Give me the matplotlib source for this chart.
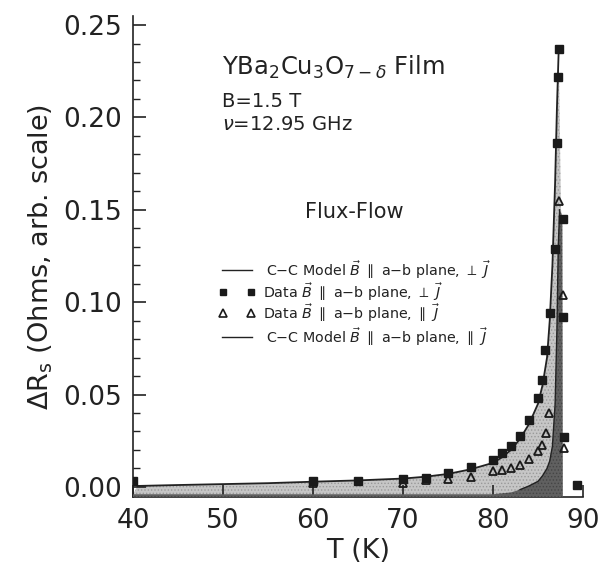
import numpy as np
import matplotlib
matplotlib.use("Agg")
import matplotlib.pyplot as plt
from matplotlib.ticker import MultipleLocator

plt.rcParams['font.family'] = ['DejaVu Sans']
plt.rcParams['mathtext.fontset'] = 'dejavusans'
plt.rcParams['hatch.linewidth'] = 0.6

# C-C model, B || a-b plane, perpendicular J (light fill)
T_perp_model = [40.0, 40.5, 45, 50, 55, 60, 65, 70, 72.5, 75, 77.5, 80, 81, 82, 83, 84,
                85, 85.5, 86.0, 86.3, 86.6, 86.9, 87.1, 87.3, 87.55, 87.7, 87.75]
R_perp_model = [-0.004, 0.0005, 0.001, 0.0015, 0.002, 0.0028, 0.0035, 0.0045, 0.0055, 0.007,
                0.0095, 0.013, 0.016, 0.020, 0.026, 0.034, 0.045, 0.055, 0.070, 0.090,
                0.120, 0.165, 0.205, 0.237, 0.150, 0.145, -0.01]

# C-C model, B || a-b plane, parallel J (dark fill)
T_par_model = [40.0, 80, 82, 83, 84, 85, 85.5, 86.0, 86.3, 86.6, 86.9, 87.1, 87.25,
               87.4, 87.6, 87.7, 87.75]
R_par_model = [-0.004, -0.004, -0.003, -0.0015, 0.0005, 0.003, 0.006, 0.010, 0.014, 0.022,
               0.045, 0.085, 0.130, 0.150, 0.148, 0.145, -0.01]

# data, B || a-b plane, perpendicular J
T_perp = [40.0, 60, 65, 70, 72.5, 75, 77.5, 80, 81, 82, 83, 84, 85, 85.4, 85.8, 86.3,
          86.9, 87.15, 87.25, 87.3, 87.75, 87.8, 87.9, 89.3]
R_perp = [0.003, 0.003, 0.003, 0.004, 0.005, 0.0073, 0.011, 0.0144, 0.0185, 0.022, 0.0275,
          0.036, 0.048, 0.058, 0.074, 0.094, 0.129, 0.186, 0.222, 0.237, 0.145, 0.092,
          0.027, 0.001]

# data, B || a-b plane, parallel J
T_par = [60.0, 70, 72.5, 75, 77.5, 80, 81, 82, 83, 84, 85, 85.4, 85.9, 86.2, 87.3, 87.8, 87.9]
R_par = [0.002, 0.002, 0.0036, 0.004, 0.0054, 0.0088, 0.0093, 0.0103, 0.0116, 0.0153,
         0.0194, 0.0228, 0.029, 0.040, 0.155, 0.104, 0.021]

fig = plt.figure(figsize=(6.0, 5.77), dpi=100)
ax = fig.add_axes([0.2217, 0.1386, 0.75, 0.834])

ax.fill_between(T_perp_model, R_perp_model, -0.01, facecolor='#c6c6c6', edgecolor='#999999',
                hatch='.....', lw=0, zorder=1)
ax.plot(T_perp_model[1:24], R_perp_model[1:24], color='#222222', lw=1.3, zorder=2)
ax.fill_between(T_par_model, R_par_model, -0.01, facecolor='#606060', edgecolor='#454545',
                hatch='.....', lw=0, zorder=3)
ax.plot(T_par_model[3:14], R_par_model[3:14], color='#222222', lw=1.0, zorder=4)

ax.plot(T_perp, R_perp, 's', color='#1a1a1a', ms=5.5, zorder=5)
ax.plot(T_par, R_par, '^', mfc='none', mec='#1a1a1a', mew=1.3, ms=6, zorder=5)

ax.set_xlim(40, 90)
ax.set_ylim(-0.0055, 0.255)
ax.xaxis.set_major_locator(MultipleLocator(10))
ax.yaxis.set_major_locator(MultipleLocator(0.05))
ax.yaxis.set_minor_locator(MultipleLocator(0.01))
ax.yaxis.set_major_formatter(plt.FormatStrFormatter('%.2f'))
ax.tick_params(which='both', direction='in', labelsize=19, colors='#222222', pad=8)
ax.tick_params(which='major', length=9, width=1.2)
ax.tick_params(which='minor', length=5, width=1.0)
ax.tick_params(axis='x', which='both', top=False)
ax.tick_params(axis='y', which='both', right=False)
ax.spines['top'].set_visible(False)
ax.spines['right'].set_visible(False)
for s in ['left', 'bottom']:
    ax.spines[s].set_linewidth(1.2)
    ax.spines[s].set_color('#222222')

ax.set_xlabel('T (K)', fontsize=19.5, color='#222222', labelpad=3)
ax.set_ylabel(r'$\Delta$R$_\mathrm{s}$ (Ohms, arb. scale)', fontsize=19.5, color='#222222',
              labelpad=6)

tc = '#222222'
ax.text(0.198, 0.877, r'YBa$_2$Cu$_3$O$_{7-\delta}$ Film', transform=ax.transAxes,
        fontsize=17.5, color=tc, va='baseline')
ax.text(0.198, 0.811, 'B=1.5 T', transform=ax.transAxes, fontsize=14, color=tc, va='baseline')
ax.text(0.198, 0.763, r'$\nu$=12.95 GHz', transform=ax.transAxes, fontsize=14, color=tc,
        va='baseline')
ax.text(0.382, 0.593, 'Flux-Flow', transform=ax.transAxes, fontsize=15, color=tc, va='center')

# hand-made legend
rows = [0.472, 0.426, 0.383, 0.333]
labels = [r'C$-$C Model $\vec{B}$ $\parallel$ a$-$b plane, $\perp$ $\vec{J}$',
          r'Data $\vec{B}$ $\parallel$ a$-$b plane, $\perp$ $\vec{J}$',
          r'Data $\vec{B}$ $\parallel$ a$-$b plane, $\parallel$ $\vec{J}$',
          r'C$-$C Model $\vec{B}$ $\parallel$ a$-$b plane, $\parallel$ $\vec{J}$']
for i, (yy, lab) in enumerate(zip(rows, labels)):
    if i in (0, 3):
        ax.plot([0.198, 0.264], [yy, yy], color=tc, lw=1.0, transform=ax.transAxes)
        ax.text(0.296, yy, lab, transform=ax.transAxes, fontsize=10.3, color=tc, va='center')
    else:
        if i == 1:
            ax.plot([0.2, 0.262], [yy, yy], 's', color='#1a1a1a', ms=5, transform=ax.transAxes)
        else:
            ax.plot([0.2, 0.262], [yy, yy], '^', mfc='none', mec='#1a1a1a', mew=1.2, ms=6,
                    transform=ax.transAxes)
        ax.text(0.289, yy, lab, transform=ax.transAxes, fontsize=10.3, color=tc, va='center')

fig.savefig('out.png', dpi=100)
